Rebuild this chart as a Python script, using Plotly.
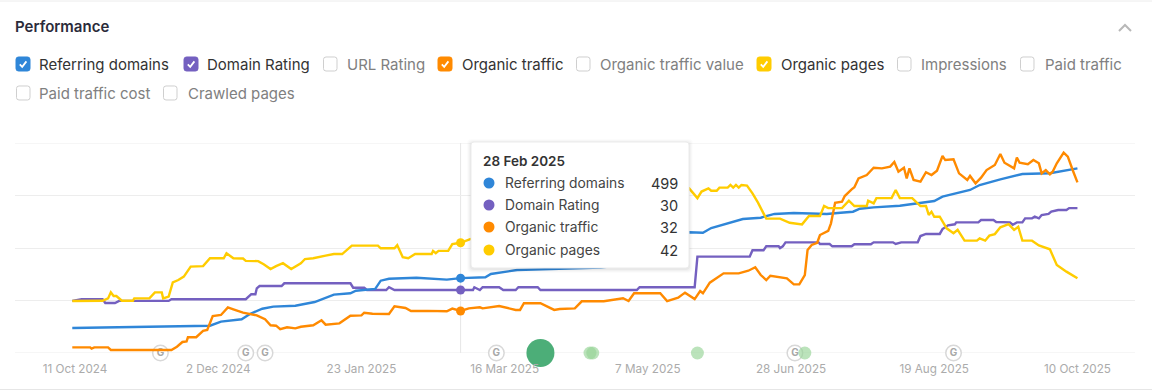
import pandas as pd
import plotly.graph_objects as go

BASE_DATE = pd.Timestamp("2024-10-11")

# Each series: days since 11 Oct 2024, and values
rd_days = [-1,49,53,60.5,63.5,68,72,80,87,90,94,100,102,109,111,114,124,135,140,149,151,160.5,191,195,210,223,228,231,238,242.5,249,254,261,273,278,282.5,285,290,299.5,312,315,325,328.5,336,344,354,364]
rd_vals = [167,182,209,225,260,295,309,315,340,360,389,398,415,427,482,495,502,489,499,505,527,553,569,580,680,805,802,833,869,893,902,927,933,927,935,942,962,971,982,1013,1042,1087,1120,1158,1193,1198,1231]

dr_days = [-1,2.4,10,11,14.5,16,34,35,62,64,65.5,66,67,75,76,100,101,105,106,113,114,116,140,144.5,145,147,148,154,155.5,160,161,168,169,204,205,225,226,245,246,250,251,255.5,256,257,258,270,270.5,274,275,282,283,289,290,297,298,300,306,307,309,314,315,317,319.5,320,328,329,333.5,334.5,339.5,340.5,342,344,345,347.5,348.5,350,351,353.5,354.5,356,357,360,361,364]
dr_vals = [24.8,25.6,25.6,23.8,23.8,24.8,24.8,25.6,25.6,28,28,30.8,31.9,31.9,33.2,33.2,31.1,31.1,30,30,31.3,30,30,30,31.3,30,31.3,31.3,30,30,31.3,31.3,30,30,31.3,31.3,45.9,45.9,48.9,48.9,50.8,50.8,49.9,50.8,52.7,52.7,51.9,51.9,50.8,50.8,51.8,51.8,52.7,52.7,51.9,52.7,52.7,55.7,56.7,56.7,59,60.8,61.3,62.2,62.2,63.3,63.3,62.4,62.2,61.1,62.2,62.2,64.1,64.1,64.9,64.1,65.7,66.2,67.3,67.6,68.1,68.1,69,69]

ot_days = [-1,5.5,6,7,12,13,33,35,37,39,40.5,41,44,46.5,48,50,53,55.5,57.5,61,66,69,71,73,74.5,77,80,82,86.5,89.5,91,96,100,104,105,108,114,116,120,122,128,135,137,140,143,147,148,154,160,161.6,163,169,174,176,181.5,184,192,199,201,203,212.5,215,219,221.5,225,227,228,230.5,235.5,241,244.5,247,249,251,252.5,258.5,261,263,265,266,267.5,269.5,270.5,273.5,274.5,276,278.5,279.5,282,283,284.5,287.5,290,293,296,297.5,299,301,302,303,304.5,307,309,311,313,315,316,319,321,324,325,327,329,331,334,336,337.5,341,342,343,346,348,350,351,352.5,354,355,356.5,359,360.5,362.5,364]
ot_vals = [4.3,4.3,3.3,4.3,4.3,2.3,2.3,2.3,4.8,8.4,8.9,12,12,16.8,17.5,28.2,29,34.8,33.3,30.7,28.7,25.7,21.1,20.8,18.1,19.6,18.8,20,21.1,24.9,21.6,22.6,28.4,28.7,30.7,29.9,29.7,35.6,34.3,32,32.1,31.8,33.8,32,34,34.8,34,35.8,32.8,32.8,37.9,37.9,32.8,33.5,34,39.4,39.4,41.7,39.6,45.5,45.5,39.6,42.1,46,41.1,47.2,45.5,53.6,60.7,60.7,62.7,65.3,59.4,55.6,58.9,56.9,52.3,52.3,59.4,78.5,82.3,84,89.9,93,98.8,114.5,115.3,119.6,124.7,126.3,133,135.6,141.2,140.7,142,145.5,138.1,141.2,133,140.7,131.8,130.5,137.7,135.6,138.9,150.1,147,147.6,136.9,131.8,134.9,129.3,133.6,139.4,143.3,151.6,145,140.7,149,145,143.8,147,144.5,136.9,139.4,136.2,138.1,144.5,152.6,149.6,138.1,130]

op_days = [-1,10,12,13,14,15,17,21,21.5,27,29,31.5,32,34,35.5,37.5,39.5,42,46.5,49,54,55,57.5,61,62,66.5,68.5,71,73,75.5,78.5,82,83.5,86.5,91,94,97,100.5,110,111,116,117,119,121,123.5,129.5,130,131,132,135.5,137,140,143.5,160,180,200,223,226,227.5,230,231,233,234,237,238,239,240,241,242,244,246,248,250,251,256,259.5,264,265.5,266.5,270.5,272,273.5,278.5,281,283,287.5,288,290,291,296.5,298,299.5,304,307,309,310,311,312,314,316.5,319,320.5,323,327.5,328.5,330.5,332,334,336,339,341,342.5,344,347.5,350,354,356.5,360,364]
op_vals = [19.8,19.9,20.8,23.1,21.7,21.7,19.9,19.9,20.8,20.8,23.1,23.1,20.8,21.5,26.9,27.8,29.1,32.9,33.1,36.1,36.1,38,36.1,36,35.1,35,33.8,32,33.1,34.2,32,34.2,35.8,36.1,37.1,37.7,37.7,40.9,40.9,39.9,39.9,41.1,36.5,36.1,37.7,37.7,38.9,38,38.9,38.9,41.5,42,43.4,47,52,58,62.7,59,61.5,62.7,61.8,61.8,63,63,64,63,64,63,64,63.8,60.8,57.3,53.2,51.2,51.2,49.6,49,50.7,52.2,52.2,56,55.2,55.2,58,56,56,58,57,59,59,62.1,59,59,56,56,52.6,53.8,51.9,51.9,47.5,45.6,46.9,42.8,42.8,43.7,42.8,44.7,45.3,47.9,49.1,46.9,48.1,42.8,42.8,41,39.5,33.5,31,28.5]

series_names = ["Referring domains", "Domain Rating", "Organic traffic", "Organic pages"]
series_colors = ["#2f86d8", "#7460c0", "#ff8a00", "#ffcc00"]
tooltip_date = "28 Feb 2025"
tooltip_day = 140
tooltip_values = [499, 30, 32, 42]

tick_days = [0, 52, 104, 156, 208, 260, 312, 364]
tick_labels = ["11 Oct 2024", "2 Dec 2024", "23 Jan 2025", "16 Mar 2025", "7 May 2025", "28 Jun 2025", "19 Aug 2025", "10 Oct 2025"]

google_update_days = [31, 62, 69, 153, 261.4, 319]
green_event_days = [187, 188, 226, 265, 169]
green_event_sizes = [13, 13, 13, 13, 28]
green_event_colors = ["rgba(150,212,150,0.65)", "rgba(150,212,150,0.65)", "rgba(150,212,150,0.65)", "rgba(150,212,150,0.65)", "#4cae78"]

checked_options = [("Referring domains", 16, 39, 64, "#2f86d8"), ("Domain Rating", 184, 207, 64, "#7460c0"),
                   ("URL Rating", 323, 347, 64, None), ("Organic traffic", 438, 462, 64, "#ff8a00"),
                   ("Organic traffic value", 576, 600, 64, None), ("Organic pages", 757, 781, 64, "#ffcc00"),
                   ("Impressions", 897, 921, 64, None), ("Paid traffic", 1020, 1045, 64, None),
                   ("Paid traffic cost", 16, 39, 93, None), ("Crawled pages", 163, 188, 93, None)]


def d(day):
    return (BASE_DATE + pd.Timedelta(days=day)).isoformat()


def dates(days):
    return [d(x) for x in days]


# pixel helpers for the page furniture
L, R, T, B = 15, 1135, 143, 353
W, H = 1152, 392
px = lambda x: (x - L) / (R - L)
py = lambda y: (B - y) / (B - T)

fig = go.Figure()

# events along the baseline
fig.add_trace(go.Scatter(x=dates(google_update_days), y=[0] * len(google_update_days), mode="markers+text",
                         text=["G"] * len(google_update_days), textposition="middle center",
                         textfont=dict(family="Inter", size=10, color="#a8a8a8", weight=700),
                         marker=dict(size=15.5, color="white", line=dict(color="#d8d8d8", width=1.5)),
                         cliponaxis=False, showlegend=False, yaxis="y"))
fig.add_trace(go.Scatter(x=dates(green_event_days), y=[0] * len(green_event_days), mode="markers",
                         marker=dict(size=green_event_sizes, color=green_event_colors, opacity=1, line=dict(width=0)),
                         cliponaxis=False, showlegend=False, yaxis="y"))

all_days = [rd_days, dr_days, ot_days, op_days]
all_vals = [rd_vals, dr_vals, ot_vals, op_vals]
axes = ["y2", "y", "y3", "y4"]
for name, color, days, vals, ax, tv in zip(series_names, series_colors, all_days, all_vals, axes, tooltip_values):
    fig.add_trace(go.Scatter(x=dates(days), y=vals, mode="lines", name=name, yaxis=ax,
                             line=dict(color=color, width=2.4), showlegend=False))
    fig.add_trace(go.Scatter(x=[d(tooltip_day)], y=[tv], mode="markers", yaxis=ax,
                             marker=dict(color=color, size=9), showlegend=False))

shapes = []
ann = []


def text(x, y, s, size=14, color="#333", anchor="left", weight=None):
    ann.append(dict(x=px(x - 1 if anchor == "left" else x), y=py(y), xref="paper", yref="paper", text=s, showarrow=False, xanchor=anchor,
                    yanchor="middle", borderpad=0, font=dict(family="Inter", size=size, color=color, weight=weight)))


def round_rect(x0, y0, x1, y1, r, fill, line, lw=1):
    a = lambda x, y: f"{px(x):.6f},{py(y):.6f}"
    p = (f"M{a(x0 + r, y0)} L{a(x1 - r, y0)} Q{a(x1, y0)} {a(x1, y0 + r)} L{a(x1, y1 - r)} Q{a(x1, y1)} {a(x1 - r, y1)} "
         f"L{a(x0 + r, y1)} Q{a(x0, y1)} {a(x0, y1 - r)} L{a(x0, y0 + r)} Q{a(x0, y0)} {a(x0 + r, y0)} Z")
    shapes.append(dict(type="path", xref="paper", yref="paper", path=p, fillcolor=fill, layer="above",
                       line=dict(color=line, width=lw)))


def polyline(points, color, width):
    p = "M" + " L".join(f"{px(x):.6f},{py(y):.6f}" for x, y in points)
    shapes.append(dict(type="path", xref="paper", yref="paper", path=p, layer="above", line=dict(color=color, width=width)))


# top and bottom gridlines of the value scale
for edge in [0, 100]:
    shapes.append(dict(type="line", xref="paper", yref="y", x0=0, x1=1, y0=edge, y1=edge, layer="below",
                       line=dict(color="#ededed", width=1)))

# top and bottom rules
polyline([(0, 1), (W, 1)], "#ececec", 1)
polyline([(0, 389.5), (W, 389.5)], "#e6e6e6", 1)
# heading and chevron
text(15, 27, "Performance", 15, "#2b2b3a", weight=600)
polyline([(1119, 31), (1125, 25), (1131, 31)], "#b8b8b8", 2)

# option checkboxes
for label, bx, tx, cy, color in checked_options:
    if color:
        round_rect(bx, cy - 7, bx + 14, cy + 7, 2.5, color, color)
        polyline([(bx + 3.8, cy + 0.3), (bx + 6.2, cy + 2.8), (bx + 10.4, cy - 2.6)], "white", 1.8)
    else:
        round_rect(bx + 0.5, cy - 7, bx + 14, cy + 7, 2.5, "white", "#cfcfcf")
    text(tx, cy, label, 15, "#333" if color else "#808080")

# crosshair
shapes.append(dict(type="line", xref="x", yref="paper", x0=d(tooltip_day), x1=d(tooltip_day), y0=0, y1=1,
                   layer="below", line=dict(color="#e6e6e6", width=1)))

# tooltip
for grow, alpha in [(4, 0.012), (3, 0.018), (2, 0.025), (1, 0.035)]:
    round_rect(471 - grow, 142 - grow + 1, 689 + grow, 268 + grow + 1, 4, f"rgba(0,0,0,{alpha})", "rgba(0,0,0,0)", 0)
round_rect(471, 142, 689, 268, 3, "white", "#ebebeb")
text(483, 161, tooltip_date, 13.5, "#333", weight=600)
for name, color, value, cy in zip(series_names, series_colors, tooltip_values, [183, 205, 227, 250]):
    shapes.append(dict(type="circle", xref="paper", yref="paper", x0=px(483.5), x1=px(494.5), y0=py(cy + 5.5), y1=py(cy - 5.5),
                       fillcolor=color, line=dict(width=0), layer="above"))
    text(505, cy, name, 13.8, "#444")
    text(679, cy, str(value), 14.5, "#333", anchor="right")

hidden = dict(overlaying="y", visible=False, fixedrange=True)
fig.update_layout(
    width=W, height=H, margin=dict(l=L, r=W - R, t=T, b=H - B),
    paper_bgcolor="white", plot_bgcolor="white", hovermode=False, showlegend=False,
    shapes=shapes, annotations=ann,
    xaxis=dict(type="date", range=[d(-21.8), d(384.9)], tickmode="array", tickvals=dates(tick_days), ticktext=tick_labels,
               showgrid=False, zeroline=False, showline=False, ticks="outside", ticklen=5, tickcolor="rgba(0,0,0,0)",
               tickfont=dict(family="Inter", size=11.7, color="#ababab")),
    yaxis=dict(range=[0, 100], tickmode="array", tickvals=[25, 50, 75], showgrid=True, gridcolor="#ededed",
               gridwidth=1, zeroline=False, showticklabels=False, ticks="", showline=False),
    yaxis2=dict(range=[0, 1400], **hidden),
    yaxis3=dict(range=[0, 160], **hidden),
    yaxis4=dict(range=[0, 80], **hidden),
)

fig.write_html("out.html", config=dict(displayModeBar=False),
               post_script="document.body.style.margin='0';document.body.style.overflow='hidden';")
